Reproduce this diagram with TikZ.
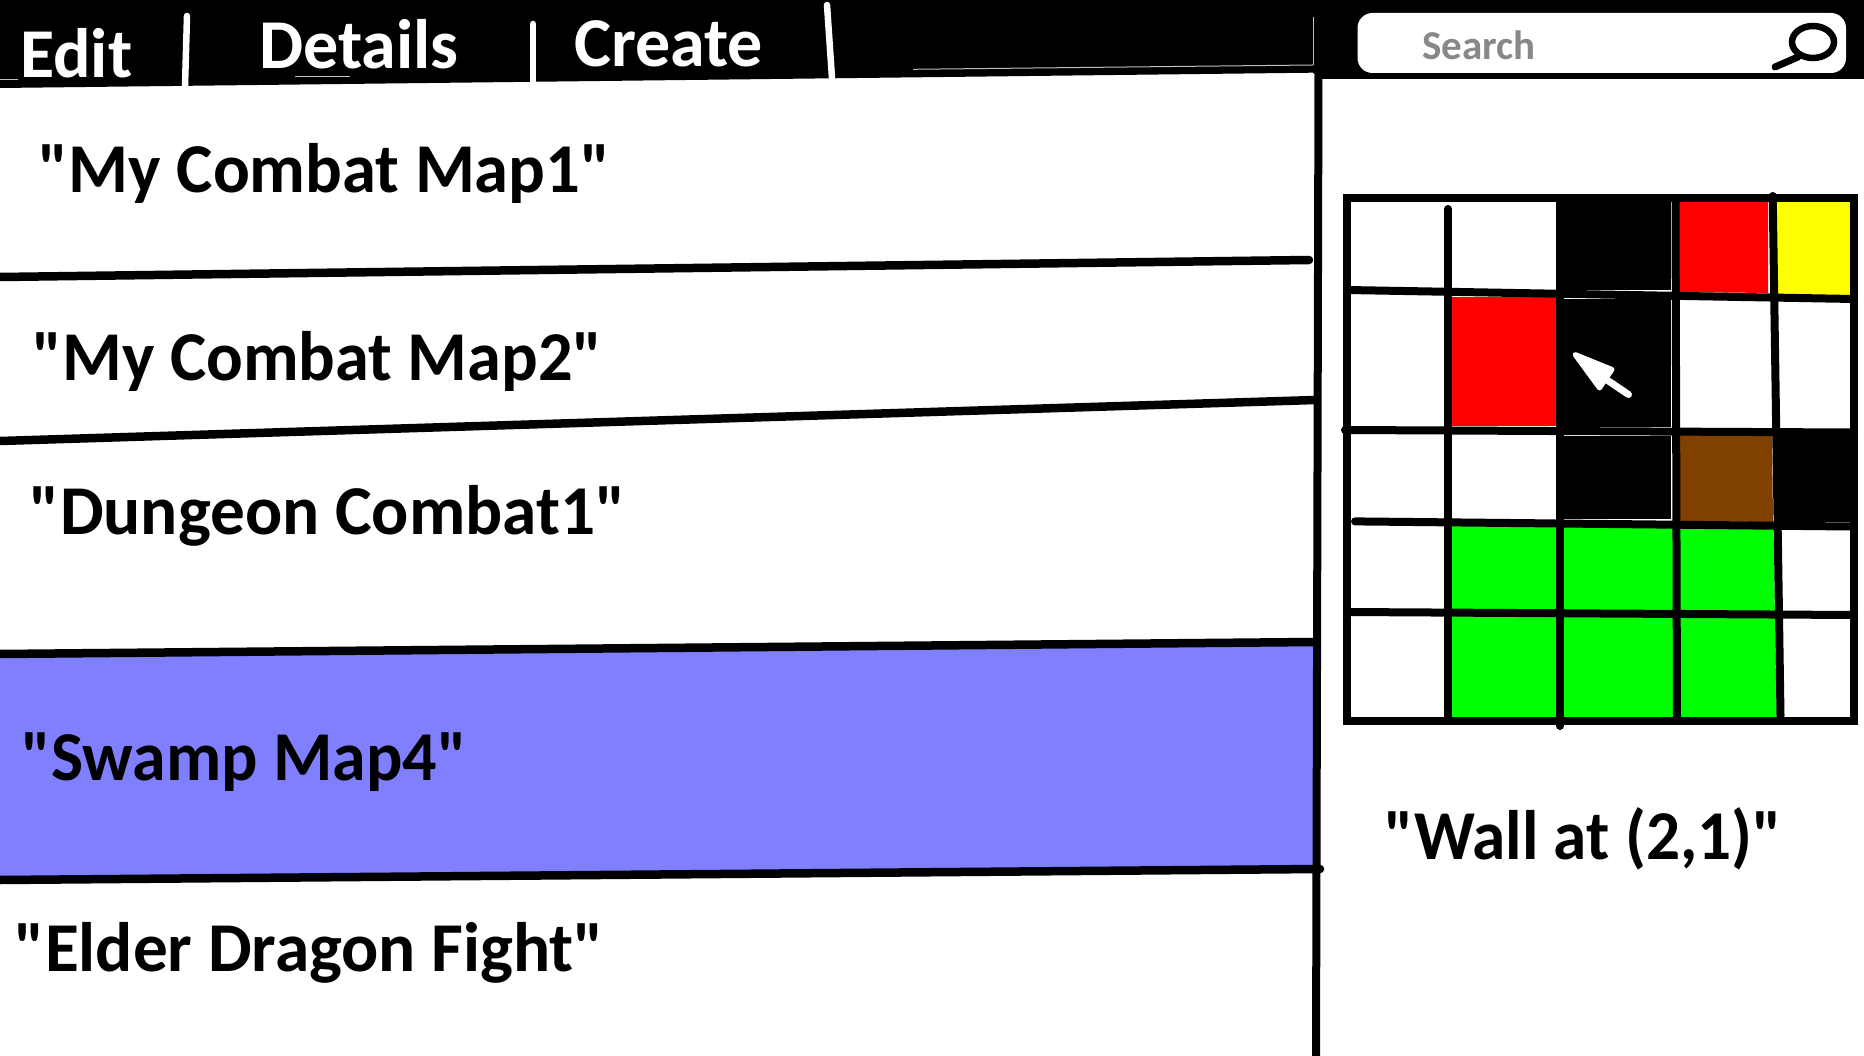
\documentclass[tikz,border=0pt]{standalone}
\usepackage{fontspec}
\setmainfont[Ligatures=TeXOff]{Carlito}
\definecolor{rowblue}{HTML}{8080FF}
\definecolor{doorbrown}{HTML}{804000}
\definecolor{searchgray}{HTML}{888888}
\definecolor{cellred}{HTML}{FF0000}
\definecolor{cellyellow}{HTML}{FFFF00}
\definecolor{cellgreen}{HTML}{00FF00}
\tikzset{
  rowtext/.style={anchor=base west,inner sep=0pt,font=\fontsize{70}{84}\selectfont\bfseries},
  tabtext/.style={rowtext,text=white},
  rowrule/.style={line width=8.5pt,line cap=round},
  gridrule/.style={line width=8pt,line cap=round},
  tabmark/.style={line width=6.5pt,line cap=round,white},
  hairline/.style={line width=1pt,white!75!black}
}
\begin{document}
\begin{tikzpicture}[x=1pt,y=-1pt]
  \useasboundingbox[fill=white] (0,0) rectangle (1864,1056);

  % Selected row
  \fill[rowblue] (0,654) -- (1314,642) -- (1314,869) -- (0,880) -- cycle;

  % Top bar
  \fill[black] (0,0) -- (1864,0) -- (1864,79) -- (1320,79) -- (1313,72.7) -- (0,88) -- cycle;

  % Tab separators
  \draw[tabmark] (187,16) -- (185,86);
  \draw[tabmark] (533,24) -- (533,82);
  \draw[tabmark] (827,5) -- (832,78);

  % Faint marks in the bar
  \draw[hairline] (0,79.3) -- (18,79.3);
  \draw[hairline] (295,76.5) -- (350,76.5);
  \draw[hairline] (913,69.3) -- (1313,65);
  \draw[hairline] (1313.5,17) -- (1313.5,65);

  % Tabs
  \node[tabtext] (edit) at (20,78) {Edit};
  \node[tabtext] (details) at (259,69) {Details};
  \node[tabtext] (create) at (574,67) {Create};

  % Search box
  \fill[white,rounded corners=15pt] (1357.5,13) rectangle (1846,73);
  \node[anchor=base west,inner sep=0pt,text=searchgray,font=\fontsize{41}{50}\selectfont\bfseries] (search) at (1422,60) {Search};
  \draw[line width=6.5pt] (1813,42) ellipse (21 and 16);
  \draw[line width=7pt,line cap=round] (1798,57) -- (1775,67);

  % Row separators
  \coordinate (L1) at (0,277);
  \coordinate (R1) at (1309,260);
  \coordinate (L2) at (0,441);
  \coordinate (R2) at (1315,400);
  \coordinate (L3) at (0,654);
  \coordinate (R3) at (1315,642);
  \coordinate (L4) at (0,880);
  \coordinate (R4) at (1320,869);
  \draw[rowrule] (L1) -- (R1);
  \draw[rowrule] (L2) -- (R2);
  \draw[rowrule] (L3) -- (R3);
  \draw[rowrule] (L4) -- (R4);

  % Panel divider
  \draw[line width=8pt] (1318.5,70) -- (1316,1060);

  % Row labels
  \node[rowtext] (mapone) at (38.5,192.5) {\scalebox{.98}[1]{"My Combat Map1"}};
  \node[rowtext] (maptwo) at (32.5,380.5) {\scalebox{.977}[1]{"My Combat Map2"}};
  \node[rowtext] (dungeon) at (29.5,534.5) {\scalebox{.99}[1]{"Dungeon Combat1"}};
  \node[rowtext] (swamp) at (21.5,780.5) {\scalebox{.97}[1]{"Swamp Map4"}};
  \node[rowtext] (dragon) at (14.5,971.5) {\scalebox{.99}[1]{"Elder Dragon Fight"}};
  \node[rowtext] (wall) at (1384.5,859) {\scalebox{.96}[1]{"Wall at (2,1)"}};

  % Grid cells
  \fill[cellred] (1679,198) -- (1768,198) -- (1768,293) -- (1679,292) -- cycle;
  \fill[cellyellow] (1775,198) -- (1854,198) -- (1854,295) -- (1775,294) -- cycle;
  \fill[black] (1556,198) rectangle (1671.3,290);
  \fill[black] (1556,299.4) rectangle (1671.3,426.6);
  \fill[black] (1556,436) rectangle (1671.3,519.3);
  \fill[cellred] (1448,297) rectangle (1556,426);
  \fill[doorbrown] (1680,435) -- (1772,435) -- (1773,522) -- (1680,521) -- cycle;
  \fill[black] (1780,436) rectangle (1858,522);
  \fill[cellgreen] (1448,525) -- (1773.5,527) -- (1776.5,717) -- (1448,717) -- cycle;

  % Grid lines
  \draw[gridrule] (1448,209) -- (1448,721);
  \draw[gridrule] (1560,198) -- (1560,726);
  \draw[gridrule] (1675.5,198) -- (1677,721);
  \draw[gridrule] (1772.7,196) -- (1780.5,716);
  \draw[gridrule] (1347,290) -- (1854,299);
  \draw[gridrule] (1345,430) -- (1854,432.5);
  \draw[gridrule] (1355,521.4) -- (1850,526.5);
  \draw[gridrule] (1347,612) -- (1854,615);
  \draw[line width=8pt] (1347,198) rectangle (1854,720.7);

  % Cursor
  \fill[white,draw=white,line width=5pt,line join=round] (1575,354.5) -- (1612,369.5) -- (1599.5,388) -- cycle;
  \draw[white,line width=7pt,line cap=round] (1607,380) -- (1628.5,394.5);
\end{tikzpicture}
\end{document}
